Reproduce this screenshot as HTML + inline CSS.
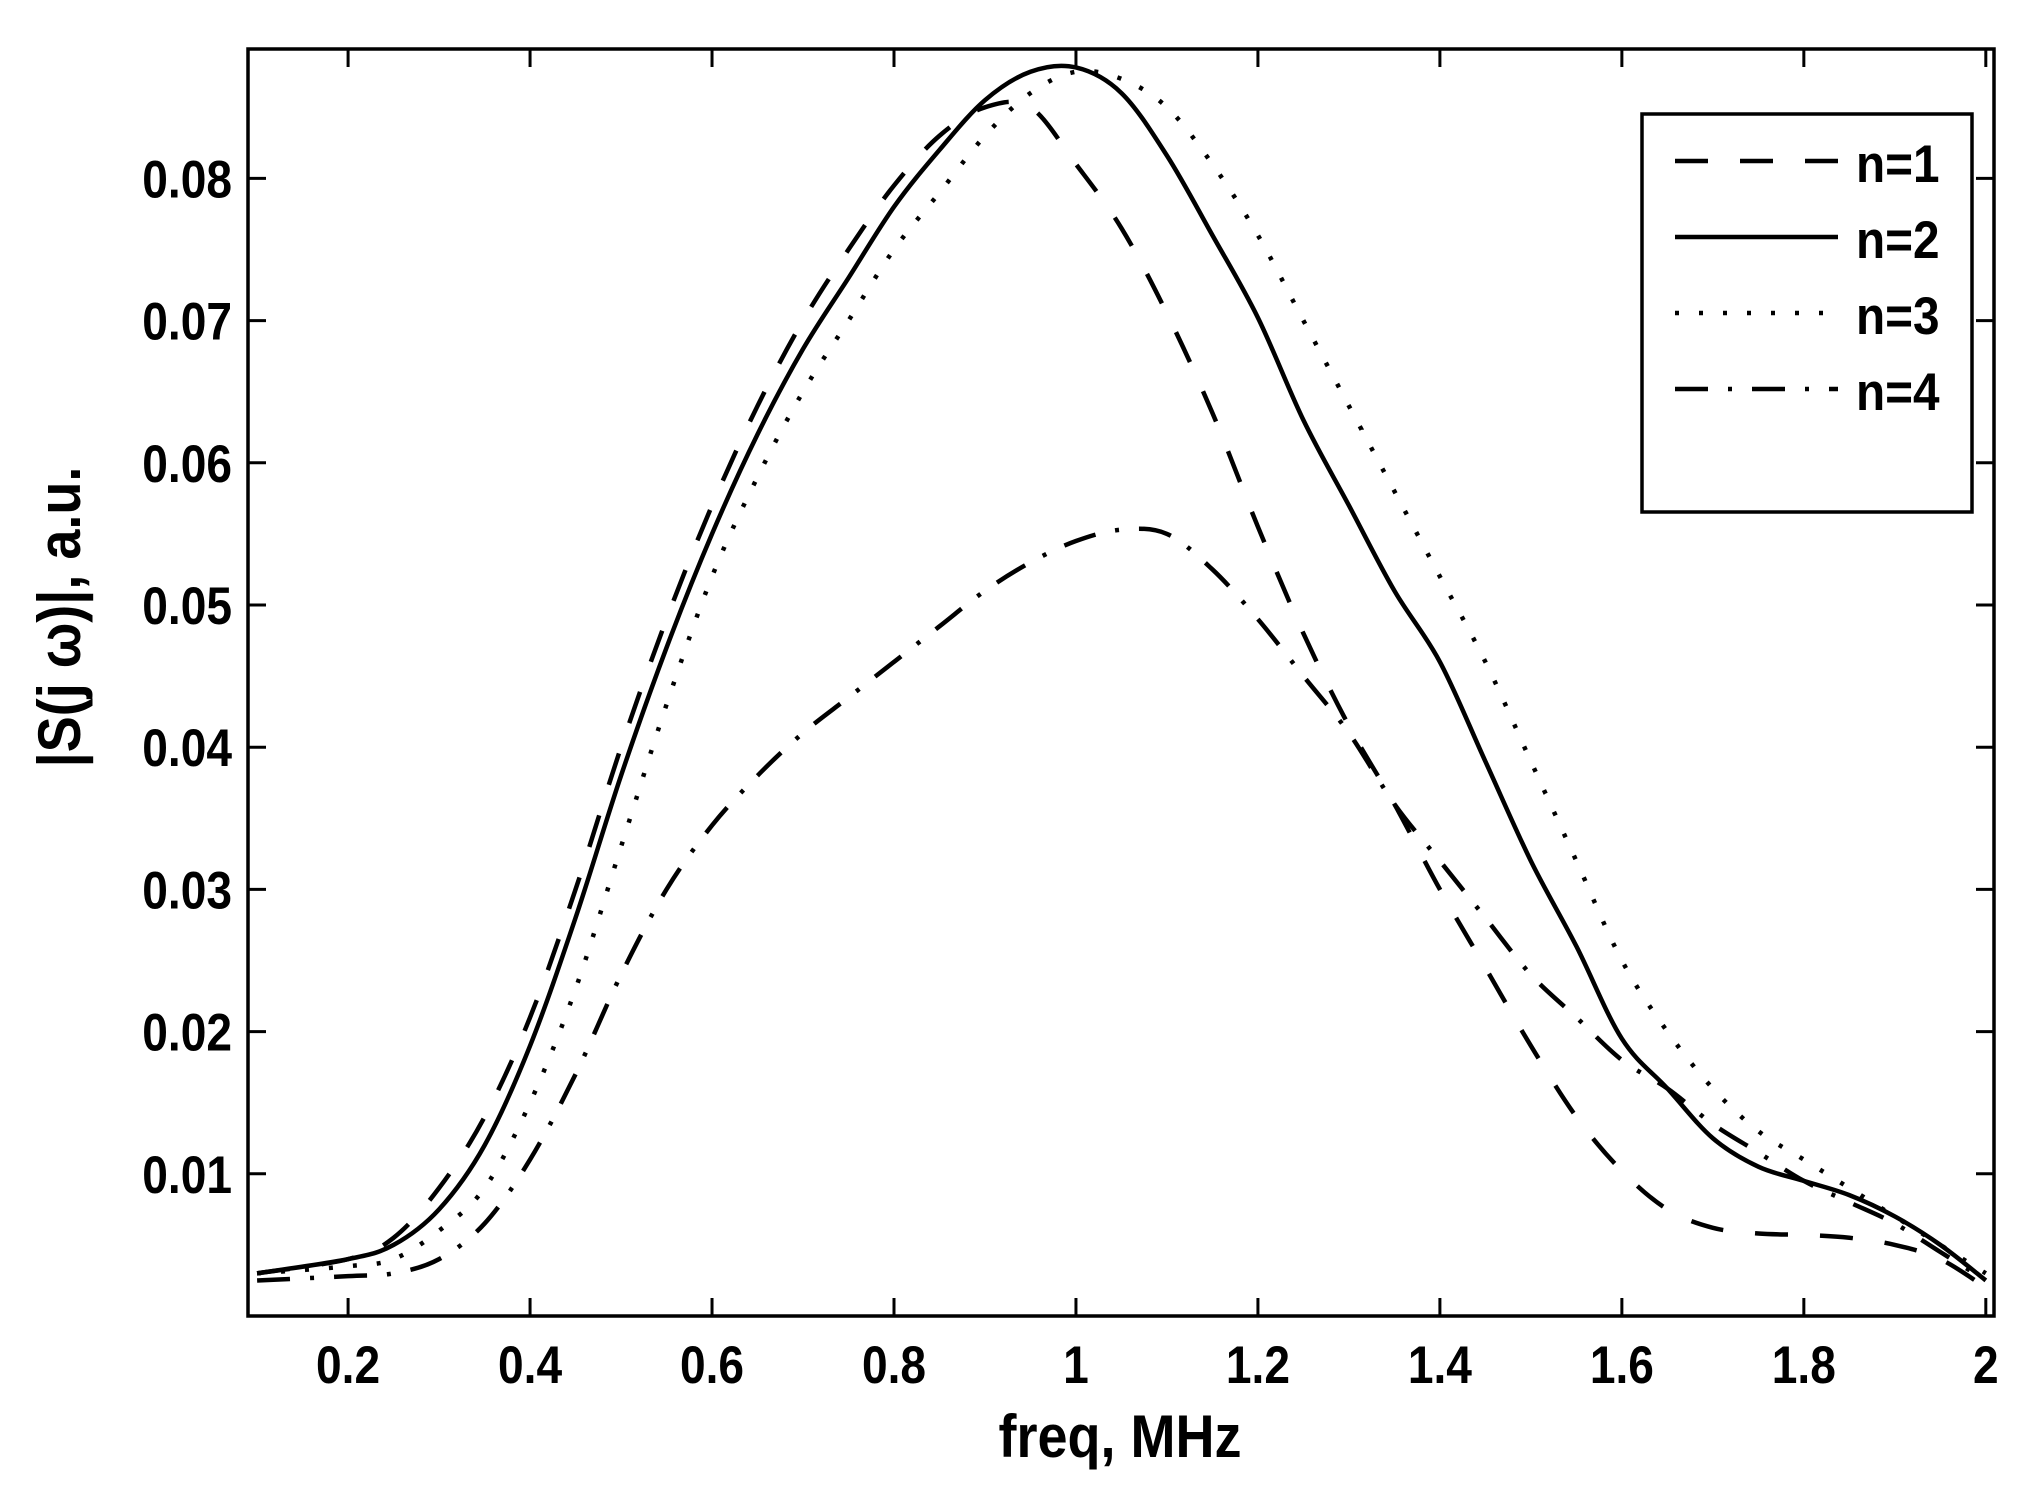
<!DOCTYPE html>
<html><head><meta charset="utf-8"><style>
html,body{margin:0;padding:0;background:#fff;}
svg{display:block;font-family:"Liberation Sans",Arial,sans-serif;font-weight:bold;}
</style></head><body>
<svg id="chart" width="2038" height="1489" viewBox="0 0 2038 1489" xmlns="http://www.w3.org/2000/svg">
<g id="plot"></g>
</svg>
<script>
const freqs = [0.1,0.2,0.25,0.3,0.35,0.4,0.45,0.5,0.55,0.6,0.65,0.7,0.75,0.8,0.85,0.9,0.95,1.0,1.05,1.1,1.15,1.2,1.25,1.3,1.35,1.4,1.45,1.5,1.55,1.6,1.65,1.7,1.75,1.8,1.85,1.9,1.95,2.0];
const n1 = [0.003,0.004,0.0055,0.009,0.014,0.021,0.030,0.040,0.049,0.057,0.064,0.070,0.075,0.0795,0.083,0.085,0.085,0.081,0.0765,0.0705,0.0635,0.0555,0.048,0.0415,0.036,0.030,0.0245,0.019,0.014,0.0102,0.0075,0.0062,0.0058,0.0057,0.0055,0.005,0.004,0.002];
const n2 = [0.003,0.004,0.005,0.0075,0.012,0.019,0.028,0.038,0.047,0.055,0.062,0.068,0.073,0.078,0.082,0.0855,0.0875,0.0878,0.086,0.0816,0.076,0.0702,0.063,0.057,0.051,0.046,0.039,0.032,0.026,0.0195,0.016,0.0125,0.0105,0.0095,0.0085,0.007,0.005,0.0025];
const n3 = [0.003,0.0035,0.004,0.006,0.009,0.015,0.023,0.033,0.043,0.052,0.059,0.065,0.070,0.075,0.079,0.083,0.086,0.0875,0.087,0.085,0.081,0.076,0.070,0.064,0.058,0.052,0.046,0.039,0.032,0.025,0.020,0.016,0.013,0.011,0.009,0.007,0.005,0.003];
const n4 = [0.0025,0.0028,0.003,0.004,0.0065,0.011,0.017,0.024,0.030,0.0345,0.038,0.041,0.0435,0.046,0.0485,0.051,0.053,0.0545,0.0553,0.055,0.0525,0.049,0.045,0.041,0.036,0.032,0.028,0.024,0.021,0.018,0.016,0.0135,0.0115,0.0095,0.008,0.0065,0.0045,0.0025];
const xTicks = [0.2,0.4,0.6,0.8,1,1.2,1.4,1.6,1.8,2];
const xTickLabels = ["0.2","0.4","0.6","0.8","1","1.2","1.4","1.6","1.8","2"];
const yTicks = [0.01,0.02,0.03,0.04,0.05,0.06,0.07,0.08];
const yTickLabels = ["0.01","0.02","0.03","0.04","0.05","0.06","0.07","0.08"];
const seriesNames = ["n=1","n=2","n=3","n=4"];

const L=248,R=1994,T=49,B=1316;
const X0=0.09,X1=2.009,Y0=0.0,Y1=0.0891;
const sx=v=>L+(v-X0)/(X1-X0)*(R-L);
const sy=v=>B-(v-Y0)/(Y1-Y0)*(B-T);
const NS="http://www.w3.org/2000/svg";
const svg=document.getElementById('chart');
function mk(tag,attrs,parent){const e=document.createElementNS(NS,tag);for(const k in attrs)e.setAttribute(k,attrs[k]);(parent||svg).appendChild(e);return e;}

const styles=[
 {dash:"33 32"},
 {dash:"none"},
 {dash:"4 20"},
 {dash:"33 20 4 20"}
];
const data=[n1,n2,n3,n4];

const defs=mk('defs',{});
const cp=mk('clipPath',{id:'clip'},defs);
mk('rect',{x:L,y:T,width:R-L,height:B-T},cp);

function pathFor(vals){
  const p=freqs.map((f,i)=>[sx(f),sy(vals[i])]);
  let d=`M${p[0][0]},${p[0][1]}`;
  for(let i=0;i<p.length-1;i++){
    const p0=p[Math.max(0,i-1)],p1=p[i],p2=p[i+1],p3=p[Math.min(p.length-1,i+2)];
    const c1=[p1[0]+(p2[0]-p0[0])/6,p1[1]+(p2[1]-p0[1])/6];
    const c2=[p2[0]-(p3[0]-p1[0])/6,p2[1]-(p3[1]-p1[1])/6];
    d+=` C${c1[0]},${c1[1]} ${c2[0]},${c2[1]} ${p2[0]},${p2[1]}`;
  }
  return d;
}
const gl=mk('g',{'clip-path':'url(#clip)'});


data.forEach((vals,i)=>{
  const pth=mk('path',{d:pathFor(vals),fill:'none',stroke:'#000','stroke-width':4.5,'stroke-dasharray':styles[i].dash},gl);
  
  
});

const box=mk('rect',{x:L,y:T,width:R-L,height:B-T,fill:'none',stroke:'#000','stroke-width':3.5});



function label(txt,x,y,size,anchor,sxv){
  return mk('text',{x:0,y:0,'font-size':size,'text-anchor':anchor,transform:`translate(${x},${y}) scale(${sxv},1)`});
}
xTicks.forEach((t,i)=>{
  const x=sx(t);
  mk('line',{x1:x,y1:B,x2:x,y2:B-18,stroke:'#000','stroke-width':3});
  mk('line',{x1:x,y1:T,x2:x,y2:T+18,stroke:'#000','stroke-width':3});
  const tx=label(xTickLabels[i],x,1383,53,'middle',0.87);
  tx.textContent=xTickLabels[i];
  
  
});
yTicks.forEach((t,i)=>{
  const y=sy(t);
  mk('line',{x1:L,y1:y,x2:L+18,y2:y,stroke:'#000','stroke-width':3});
  mk('line',{x1:R,y1:y,x2:R-18,y2:y,stroke:'#000','stroke-width':3});
  const tx=label(yTickLabels[i],232,y+19,53,'end',0.87);
  tx.textContent=yTickLabels[i];
  
  
});

const xt=label('',1120,1457,60,'middle',0.9);
xt.textContent='freq, MHz';


const yt=mk('text',{x:0,y:0,'font-size':60,'text-anchor':'middle',transform:'translate(80,617) rotate(-90) scale(0.9,1)'});
yt.textContent='|S(j \u03C9)|, a.u.';



const lg=mk('g',{});


mk('rect',{x:1642,y:114,width:330,height:398,fill:'#fff',stroke:'#000','stroke-width':3.5},lg);
const rows=[161,237,313,389];
seriesNames.forEach((n,i)=>{
  const ln=mk('line',{x1:1675,y1:rows[i],x2:1838,y2:rows[i],stroke:'#000','stroke-width':4.5,'stroke-dasharray':styles[i].dash},lg);
  
  
  const tx=mk('text',{x:0,y:0,'font-size':53,transform:`translate(1856,${rows[i]+21}) scale(0.9,1)`},lg);
  tx.textContent=n;
  
  
});
</script>
</body></html>
